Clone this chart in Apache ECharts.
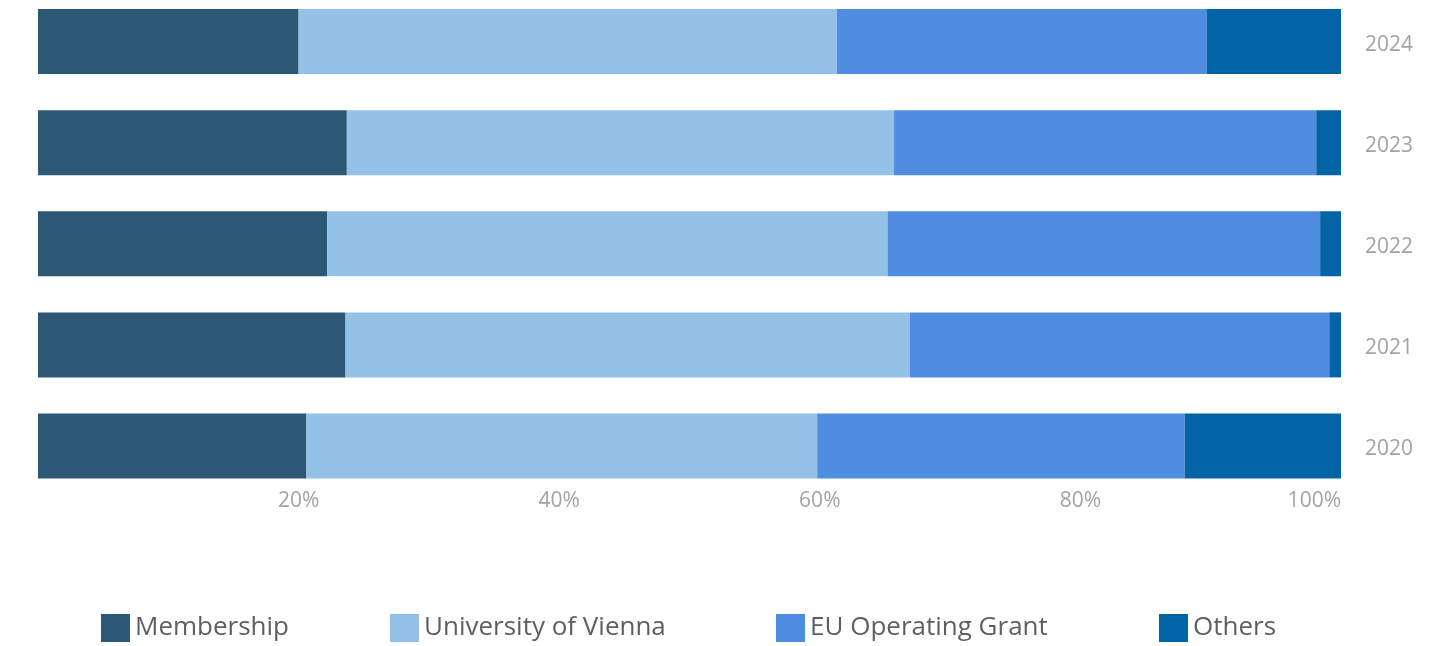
<!DOCTYPE html>
<html>
<head>
<meta charset="utf-8">
<script src="https://cdn.jsdelivr.net/npm/echarts@6/dist/echarts.min.js"></script>
<style>html,body{margin:0;padding:0;background:#fff}#c{width:1446px;height:646px}</style>
</head>
<body>
<div id="c"></div>
<script>
const years = ['2020', '2021', '2022', '2023', '2024'];
const membership = [20.6, 23.6, 22.2, 23.7, 20.0];
const university = [39.2, 43.3, 43.0, 42.0, 41.3];
const euGrant = [28.2, 32.2, 33.2, 32.4, 28.4];
const others = [12.0, 0.9, 1.6, 1.9, 10.3];
const seriesNames = ['Membership', 'University of Vienna', 'EU Operating Grant', 'Others'];
const colors = ['#2C5876', '#94C1E8', '#4E8DE0', '#0364A5'];
const xTicks = [0, 20, 40, 60, 80, 100];

const font = '"Open Sans", "Noto Sans", sans-serif';
const chart = echarts.init(document.getElementById('c'), null, {renderer: 'canvas'});
const values = [membership, university, euGrant, others];
const legendLefts = [96, 385, 771, 1154];

chart.setOption({
  animation: false,
  textStyle: {fontFamily: font},
  grid: {left: 38, right: 105, top: 41.5, height: 404.5, containLabel: false},
  legend: seriesNames.map((n, i) => ({
    data: [n],
    left: legendLefts[i],
    top: 609,
    itemWidth: 29,
    itemHeight: 28,
    itemGap: 0,
    icon: 'rect',
    textStyle: {fontSize: 26, color: '#5F5F5F', fontFamily: font, padding: [4, 0, 0, 0]},
    selectedMode: false
  })),
  xAxis: {
    type: 'value',
    min: 0,
    max: 100,
    interval: 20,
    axisLine: {show: false},
    axisTick: {show: false},
    splitLine: {show: false},
    axisLabel: {
      color: '#A3A3A3',
      fontSize: 21,
      fontFamily: font,
      margin: 45,
      showMinLabel: false,
      alignMaxLabel: 'right',
      formatter: v => xTicks.indexOf(v) > 0 ? v + '%' : ''
    }
  },
  yAxis: {
    type: 'category',
    data: years,
    boundaryGap: false,
    position: 'right',
    axisLine: {show: false},
    axisTick: {show: false},
    axisLabel: {color: '#A3A3A3', fontSize: 21, fontFamily: font, margin: 24, verticalAlign: 'top', lineHeight: 7}
  },
  series: seriesNames.map((n, i) => ({
    name: n,
    type: 'bar',
    stack: 'total',
    barWidth: 65,
    data: values[i],
    itemStyle: {color: colors[i]}
  }))
});
</script>
</body>
</html>
